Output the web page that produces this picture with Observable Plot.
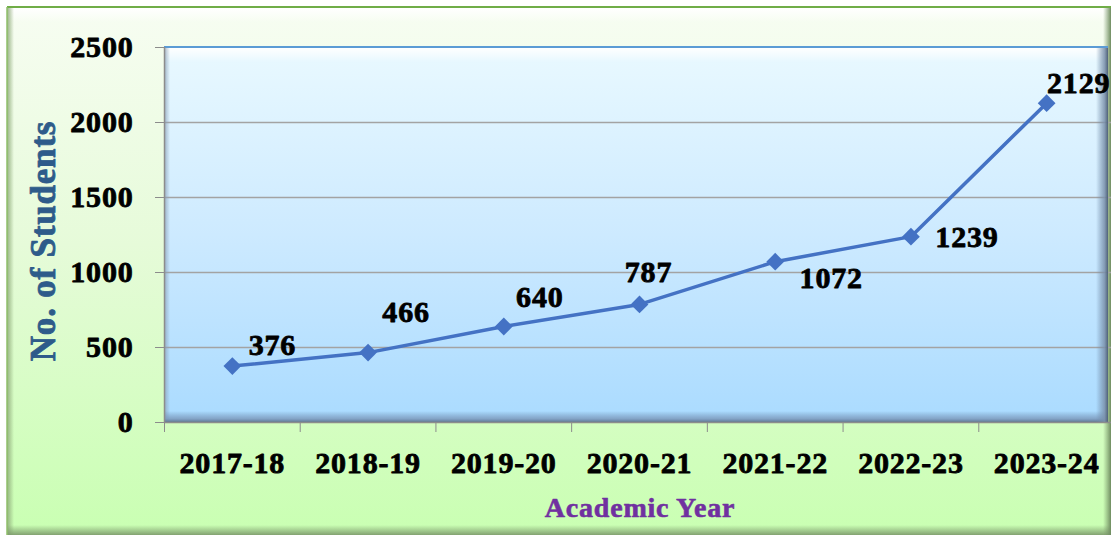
<!DOCTYPE html>
<html>
<head>
<meta charset="utf-8">
<script src="https://cdn.jsdelivr.net/npm/d3@7"></script>
<script src="https://cdn.jsdelivr.net/npm/@observablehq/plot@0.6"></script>
<style>
  html, body { margin: 0; padding: 0; background: #ffffff; }
  #chart { width: 1111px; height: 538px; overflow: hidden; }
  #chart svg text { font-family: "Liberation Serif", "Times New Roman", serif; font-weight: 700; letter-spacing: 0.8px; }
</style>
</head>
<body>
<div id="chart"></div>
<script>
// ---- data ----
const years = ["2017-18", "2018-19", "2019-20", "2020-21", "2021-22", "2022-23", "2023-24"];
const students = [376, 466, 640, 787, 1072, 1239, 2129];
const yTicks = [0, 500, 1000, 1500, 2000, 2500];
const gridValues = [500, 1000, 1500, 2000];
const yTitle = "No. of Students";
const xTitle = "Academic Year";

const data = years.map((year, i) => ({i, year, students: students[i]}));
const boundaries = d3.range(years.length + 1).map(k => k - 0.5);

// label placement (pixel offsets from each marker)
const labelOffsets = [[40, -21], [38, -40], [36, -29], [9, -32], [56, 17], [56, 1], [32, -20]];

// ---- decoration helpers ----
const NS = "http://www.w3.org/2000/svg";
function el(tag, attrs, parent) {
  const e = document.createElementNS(NS, tag);
  for (const k in attrs) e.setAttribute(k, attrs[k]);
  if (parent) parent.appendChild(e);
  return e;
}
function grad(defs, id, stops, dir) {
  const [x1, y1, x2, y2] = dir;
  const g = el("linearGradient", {id, x1, y1, x2, y2}, defs);
  for (const [o, c, op] of stops) el("stop", {offset: o, "stop-color": c, "stop-opacity": op ?? 1}, g);
}

const PLOT_RIGHT = 1108;

function outerDecor(index, scales, values, dims) {
  const g = el("g", {});
  const defs = el("defs", {}, g);
  const W = dims.width, H = dims.height;
  grad(defs, "gOuter", [["0", "#f7fdf2"], ["0.45", "#e6fbd9"], ["1", "#c9ffb2"]], [0, 0, 0, 1]);
  grad(defs, "gOTop", [["0", "#ffffff", 1], ["1", "#ffffff", 0]], [0, 0, 0, 1]);
  grad(defs, "gOLeft", [["0", "#8daa78", 0.9], ["1", "#8daa78", 0]], [0, 0, 1, 0]);
  grad(defs, "gOBottom", [["0", "#7f9d6e", 0], ["1", "#7f9d6e", 0.95]], [0, 0, 0, 1]);
  grad(defs, "gORight", [["0", "#7f9d6e", 0], ["1", "#6f8c60", 1]], [0, 0, 1, 0]);
  el("rect", {x: 7, y: 7, width: W - 7, height: H - 10, fill: "url(#gOuter)"}, g);
  el("rect", {x: 8, y: 8, width: W - 8, height: 14, fill: "url(#gOTop)"}, g);
  el("rect", {x: 7, y: 8, width: 7, height: H - 11, fill: "url(#gOLeft)"}, g);
  el("rect", {x: 7, y: H - 13, width: W - 7, height: 10, fill: "url(#gOBottom)"}, g);
  el("rect", {x: W - 8, y: 8, width: 8, height: H - 11, fill: "url(#gORight)"}, g);
  el("line", {x1: 7, y1: 7, x2: W, y2: 7, stroke: "#70ad47", "stroke-width": 2}, g);
  el("line", {x1: 7, y1: 7, x2: 7, y2: H - 3, stroke: "#8fbf6a", "stroke-width": 1.5}, g);
  // plot area
  const L = scales.x(-0.5), T = scales.y(2500), B = scales.y(0);
  grad(defs, "gPlot", [["0", "#e9f9ff"], ["0.5", "#cdeaff"], ["1", "#aadbff"]], [0, 0, 0, 1]);
  el("rect", {x: L, y: T, width: PLOT_RIGHT - L, height: B - T, fill: "url(#gPlot)"}, g);
  return g;
}

function plotBevel(index, scales, values, dims) {
  const g = el("g", {});
  const defs = el("defs", {}, g);
  const L = scales.x(-0.5), T = scales.y(2500), B = scales.y(0);
  grad(defs, "gPTop", [["0", "#ffffff", 0.95], ["1", "#ffffff", 0]], [0, 0, 0, 1]);
  grad(defs, "gPBottom", [["0", "#6f90b6", 0], ["0.7", "#7a96b8", 0.8], ["1", "#5f7895", 1]], [0, 0, 0, 1]);
  grad(defs, "gPRight", [["0", "#6d89a8", 0], ["0.7", "#7a90aa", 0.85], ["1", "#4f6178", 1]], [0, 0, 1, 0]);
  grad(defs, "gPLeft", [["0", "#8a9fb5", 0.8], ["1", "#8a9fb5", 0]], [0, 0, 1, 0]);
  el("rect", {x: L, y: T + 1, width: PLOT_RIGHT - L, height: 14, fill: "url(#gPTop)"}, g);
  el("rect", {x: L, y: T, width: 6, height: B - T, fill: "url(#gPLeft)"}, g);
  el("rect", {x: L, y: B - 11, width: PLOT_RIGHT - L, height: 11, fill: "url(#gPBottom)"}, g);
  el("rect", {x: PLOT_RIGHT - 12, y: T, width: 12, height: B - T, fill: "url(#gPRight)"}, g);
  el("line", {x1: L, y1: T, x2: PLOT_RIGHT, y2: T, stroke: "#5b9bd5", "stroke-width": 2}, g);
  return g;
}

const labelMarks = data.map((d, k) => Plot.text([d], {
  x: "i", y: "students", text: v => String(v.students),
  dx: labelOffsets[k][0], dy: labelOffsets[k][1],
  fontSize: 30, fill: "#000000", stroke: "#000000", strokeWidth: 0.8
}));

const chart = Plot.plot({
  width: 1111,
  height: 538,
  marginLeft: 164,
  marginTop: 47,
  marginBottom: 116,
  marginRight: 0,
  x: {domain: [-0.5, years.length - 0.5], range: [164, 1114], axis: null, label: null},
  y: {domain: [0, 2500], axis: null, label: null},
  style: {background: "transparent", overflow: "visible"},
  marks: [
    outerDecor,
    Plot.ruleY(gridValues, {stroke: "#a3a3a3", strokeWidth: 1.5}),
    plotBevel,
    Plot.ruleY([0], {stroke: "#8c8c8c", strokeWidth: 1.5}),
    Plot.ruleX([-0.5], {stroke: "#8c8c8c", strokeWidth: 1.5}),
    Plot.axisY({ticks: yTicks, label: null, tickSize: 9, tickPadding: 22, stroke: "#8c8c8c", fill: "#000000",
      textStroke: "#000000", textStrokeWidth: 0.8, fontSize: 30, tickFormat: d => String(d)}),
    Plot.axisX({ticks: boundaries, label: null, tickSize: 10, stroke: "#8c8c8c", tickFormat: () => ""}),
    Plot.axisX({ticks: d3.range(years.length), label: null, tickSize: 0, tickPadding: 29, fill: "#000000",
      textStroke: "#000000", textStrokeWidth: 0.8, fontSize: 30, tickFormat: i => years[i]}),
    Plot.line(data, {x: "i", y: "students", stroke: "#4472c4", strokeWidth: 3.5}),
    Plot.dot(data, {x: "i", y: "students", symbol: "diamond2", r: 8, fill: "#4472c4", stroke: "none"}),
    ...labelMarks,
    Plot.text([yTitle], {frameAnchor: "left", textAnchor: "middle", lineAnchor: "middle", dx: -121, dy: 6,
      rotate: -90, fontSize: 35, fill: "#2e5b8a", stroke: "#2e5b8a", strokeWidth: 0.8}),
    Plot.text([xTitle], {frameAnchor: "bottom", textAnchor: "middle", lineAnchor: "middle", dy: 86, dx: 2,
      fontSize: 28, fill: "#7030a0", stroke: "#7030a0", strokeWidth: 0.6})
  ]
});

document.getElementById("chart").appendChild(chart);
</script>
</body>
</html>
